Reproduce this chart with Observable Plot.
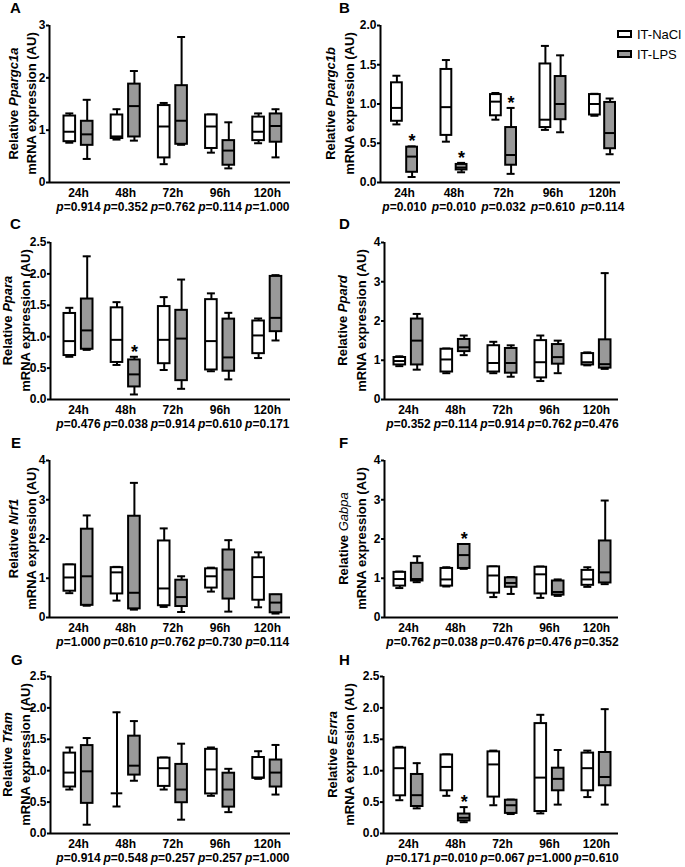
<!DOCTYPE html>
<html><head><meta charset="utf-8">
<script src="https://cdn.jsdelivr.net/npm/d3@7"></script>
<script src="https://cdn.jsdelivr.net/npm/@observablehq/plot@0.6"></script>
<style>
body{margin:0;background:#fff;}
#wrap{position:relative;width:685px;height:867px;overflow:hidden;background:#fff;}
#wrap svg{position:absolute;}
</style></head><body><div id="wrap"></div>
<script>
const times = ["24h","48h","72h","96h","120h"];
const groups = ["IT-NaCl","IT-LPS"];

// [min, q1, median, q3, max] per time point
const A_NaCl = [[0.76,0.78,0.97,1.27,1.32],[0.82,0.84,0.88,1.29,1.40],[0.35,0.47,1.07,1.47,1.52],[0.57,0.65,1.07,1.29,1.30],[0.75,0.80,0.97,1.25,1.32]];
const A_LPS  = [[0.45,0.71,0.92,1.17,1.58],[0.80,0.87,1.46,1.88,2.13],[0.72,0.73,1.18,1.85,2.78],[0.27,0.33,0.61,0.80,1.15],[0.48,0.77,1.08,1.31,1.40]];
const A_p = ["0.914","0.352","0.762","0.114","1.000"];
const A_stars = [];
const A_ticks = [0,1,2,3];

const B_NaCl = [[0.74,0.78,0.95,1.27,1.36],[0.52,0.60,0.96,1.44,1.56],[0.80,0.85,1.03,1.12,1.14],[0.67,0.70,0.80,1.51,1.74],[0.85,0.86,1.00,1.12,1.13]];
const B_LPS  = [[0.07,0.13,0.33,0.45,0.46],[0.13,0.16,0.19,0.23,0.25],[0.11,0.22,0.35,0.70,0.95],[0.64,0.80,1.00,1.35,1.62],[0.36,0.43,0.63,1.02,1.07]];
const B_p = ["0.010","0.010","0.032","0.610","0.114"];
const B_stars = [0,1,2];
const B_ticks = [0,0.5,1,1.5,2];

const C_NaCl = [[0.68,0.70,0.93,1.37,1.46],[0.55,0.59,0.95,1.46,1.55],[0.47,0.57,0.95,1.48,1.63],[0.45,0.47,0.93,1.59,1.69],[0.66,0.73,1.02,1.25,1.29]];
const C_LPS  = [[0.79,0.80,1.10,1.60,2.28],[0.08,0.20,0.40,0.63,0.68],[0.17,0.30,0.97,1.42,1.91],[0.32,0.45,0.67,1.28,1.38],[0.94,1.08,1.30,1.96,1.98]];
const C_p = ["0.476","0.038","0.914","0.610","0.171"];
const C_stars = [1];
const C_ticks = [0,0.5,1,1.5,2,2.5];

const D_NaCl = [[0.85,0.88,0.98,1.07,1.10],[0.67,0.70,1.02,1.28,1.30],[0.67,0.70,0.93,1.37,1.47],[0.47,0.55,0.95,1.50,1.63],[0.87,0.88,0.95,1.17,1.20]];
const D_LPS  = [[0.76,0.88,1.50,2.05,2.18],[1.13,1.22,1.33,1.53,1.63],[0.58,0.67,0.93,1.30,1.38],[0.67,0.90,1.08,1.40,1.50],[0.78,0.80,0.90,1.52,3.22]];
const D_p = ["0.352","0.114","0.914","0.762","0.476"];
const D_stars = [];
const D_ticks = [0,1,2,3,4];

const E_NaCl = [[0.62,0.67,1.02,1.34,1.35],[0.43,0.60,1.15,1.27,1.29],[0.27,0.30,0.74,1.95,2.27],[0.66,0.75,1.05,1.24,1.27],[0.26,0.44,1.03,1.52,1.66]];
const E_LPS  = [[0.30,0.31,1.05,2.25,2.60],[0.20,0.22,0.63,2.58,3.43],[0.14,0.28,0.52,0.95,1.05],[0.15,0.47,1.22,1.72,1.97],[0.10,0.12,0.38,0.58,0.58]];
const E_p = ["1.000","0.610","0.762","0.730","0.114"];
const E_stars = [];
const E_ticks = [0,1,2,3,4];

const F_NaCl = [[0.75,0.80,0.98,1.15,1.17],[0.79,0.80,0.97,1.25,1.28],[0.52,0.62,1.07,1.29,1.30],[0.50,0.60,1.10,1.28,1.30],[0.78,0.82,0.97,1.20,1.28]];
const F_LPS  = [[0.90,0.93,0.98,1.38,1.56],[1.24,1.25,1.59,1.86,1.87],[0.60,0.77,0.88,1.01,1.03],[0.55,0.57,0.65,0.93,0.97],[0.85,0.88,1.15,1.95,2.98]];
const F_p = ["0.762","0.038","0.476","0.476","0.352"];
const F_stars = [1];
const F_ticks = [0,1,2,3,4];

const G_NaCl = [[0.70,0.74,0.97,1.28,1.37],[0.43,0.64,0.64,0.64,1.93],[0.70,0.75,1.04,1.20,1.21],[0.60,0.63,1.02,1.34,1.37],[0.87,0.88,0.89,1.21,1.31]];
const G_LPS  = [[0.14,0.48,0.99,1.40,1.52],[0.84,0.93,1.08,1.55,1.79],[0.22,0.49,0.70,1.10,1.43],[0.34,0.42,0.70,0.96,1.03],[0.62,0.74,0.97,1.17,1.41]];
const G_p = ["0.914","0.548","0.257","0.257","1.000"];
const G_stars = [];
const G_ticks = [0,0.5,1,1.5,2,2.5];

const H_NaCl = [[0.53,0.60,1.04,1.36,1.38],[0.60,0.68,1.06,1.25,1.26],[0.45,0.58,1.10,1.30,1.32],[0.32,0.35,0.89,1.75,1.89],[0.58,0.68,1.04,1.28,1.32]];
const H_LPS  = [[0.40,0.43,0.61,0.94,1.12],[0.18,0.20,0.25,0.31,0.42],[0.31,0.32,0.45,0.53,0.54],[0.46,0.68,0.87,1.04,1.33],[0.46,0.76,0.90,1.29,1.98]];
const H_p = ["0.171","0.010","0.067","1.000","0.610"];
const H_stars = [1];
const H_ticks = [0,0.5,1,1.5,2,2.5];

const FONT = '"Liberation Sans", Arial, sans-serif';
const wrap = document.getElementById("wrap");

const panels = [
  {id:"A", gene:"Ppargc1a", nacl:A_NaCl, lps:A_LPS, p:A_p, stars:A_stars, ticks:A_ticks, fmt:"d",   top:0,   left:0,   axisX:49,  c0:78,  step:47.2, right:290, lab1:13,  lab2:31,  lx:10,  ly:13},
  {id:"B", gene:"Ppargc1b", nacl:B_NaCl, lps:B_LPS, p:B_p, stars:B_stars, ticks:B_ticks, fmt:".1f", top:0,   left:320, axisX:380, c0:404, step:49.5, right:620, lab1:330, lab2:349, lx:339, ly:13, off:7.6, half:5.4},
  {id:"C", gene:"Ppara",    nacl:C_NaCl, lps:C_LPS, p:C_p, stars:C_stars, ticks:C_ticks, fmt:".1f", top:217, left:0,   axisX:50,  c0:78,  step:47.2, right:290, lab1:7.5, lab2:25.5, lx:10,  ly:229},
  {id:"D", gene:"Ppard",    nacl:D_NaCl, lps:D_LPS, p:D_p, stars:D_stars, ticks:D_ticks, fmt:"d",   top:217, left:320, axisX:384, c0:408, step:47,   right:618, lab1:342, lab2:361, lx:339, ly:229},
  {id:"E", gene:"Nrf1",     nacl:E_NaCl, lps:E_LPS, p:E_p, stars:E_stars, ticks:E_ticks, fmt:"d",   top:435, left:0,   axisX:49,  c0:78,  step:47.2, right:290, lab1:13,  lab2:31,  lx:11,  ly:448},
  {id:"F", gene:"Gabpa",    nacl:F_NaCl, lps:F_LPS, p:F_p, stars:F_stars, ticks:F_ticks, fmt:"d",   top:435, left:320, axisX:384, c0:408, step:47,   right:618, lab1:343, lab2:361, lx:339, ly:448, geneNormal:true},
  {id:"G", gene:"Tfam",     nacl:G_NaCl, lps:G_LPS, p:G_p, stars:G_stars, ticks:G_ticks, fmt:".1f", top:651, left:0,   axisX:50,  c0:78,  step:47.2, right:290, lab1:7.5, lab2:25.5, lx:11,  ly:665},
  {id:"H", gene:"Esrra",    nacl:H_NaCl, lps:H_LPS, p:H_p, stars:H_stars, ticks:H_ticks, fmt:".1f", top:651, left:320, axisX:383, c0:408, step:47,   right:618, lab1:332, lab2:349, lx:339, ly:665}
];

function drawPanel(cfg) {
  const W = cfg.left === 0 ? 340 : 365;
  const H = cfg.top === 651 ? 216 : 217;
  const off = (cfg.off ?? 8.7) / cfg.step;
  const half = (cfg.half ?? 5.8) / cfg.step;
  const cap = 4 / cfg.step;
  const rows = [];
  times.forEach((t, i) => {
    rows.push({i, g: groups[0], s: cfg.nacl[i]});
    rows.push({i, g: groups[1], s: cfg.lps[i]});
  });
  const pos = d => d.i + (d.g === groups[0] ? -off : off);
  const xd = [(cfg.axisX - cfg.c0) / cfg.step, (cfg.right - cfg.c0) / cfg.step];
  const ymax = cfg.ticks[cfg.ticks.length - 1];
  const svg = Plot.plot({
    width: W, height: H,
    marginLeft: cfg.axisX - cfg.left,
    marginRight: W - (cfg.right - cfg.left),
    marginTop: 25,
    marginBottom: H - 182,
    x: {domain: xd},
    y: {domain: [0, ymax]},
    style: {fontFamily: FONT, fontSize: "12px", fontWeight: "bold", background: "transparent", overflow: "visible", color: "#000"},
    marks: [
      Plot.ruleX(rows, {x: pos, y1: d => d.s[0], y2: d => d.s[1], stroke: "#000", strokeWidth: 2}),
      Plot.ruleX(rows, {x: pos, y1: d => d.s[3], y2: d => d.s[4], stroke: "#000", strokeWidth: 2}),
      Plot.ruleY(rows, {y: d => d.s[4], x1: d => pos(d) - cap, x2: d => pos(d) + cap, stroke: "#000", strokeWidth: 2}),
      Plot.ruleY(rows, {y: d => d.s[0], x1: d => pos(d) - cap, x2: d => pos(d) + cap, stroke: "#000", strokeWidth: 2}),
      Plot.rect(rows, {x1: d => pos(d) - half, x2: d => pos(d) + half, y1: d => d.s[1], y2: d => d.s[3],
        fill: d => d.g === groups[0] ? "#ffffff" : "#999999", stroke: "#000", strokeWidth: 2}),
      Plot.ruleY(rows, {y: d => d.s[2], x1: d => pos(d) - half, x2: d => pos(d) + half, stroke: "#000", strokeWidth: 2}),
      Plot.ruleX([xd[0]], {stroke: "#000", strokeWidth: 2}),
      Plot.ruleY([0], {stroke: "#000", strokeWidth: 2}),
      Plot.axisY({ticks: cfg.ticks, tickFormat: d3.format(cfg.fmt), tickSize: 3, tickPadding: 1, strokeWidth: 2, label: null, fontSize: 12, fontWeight: "bold"}),
      Plot.axisX({ticks: [0,1,2,3,4], tickFormat: i => times[i], tickSize: 0, tickPadding: 6, label: null, fontSize: 12, fontWeight: "bold"}),
      Plot.text(cfg.p, {x: (d, i) => i, frameAnchor: "bottom", dy: 28.5, lineAnchor: "bottom", text: d => "p=" + d, fontSize: 12, fontWeight: "bold"}),
      Plot.text(cfg.stars, {x: i => i + off, y: i => cfg.lps[i][4], text: () => "*", lineAnchor: "bottom", dy: 1, fontSize: 18, fontWeight: "bold"})
    ]
  });
  const s = d3.select(svg);
  s.selectAll("text").filter(function() { return /^p=/.test(this.textContent); }).each(function() {
    const v = this.textContent.slice(1);
    const t = d3.select(this);
    t.text(null);
    t.append("tspan").attr("font-style", "italic").text("p");
    t.append("tspan").text(v);
  });
  const yc = (25 + 182) / 2;
  const l1 = s.append("text")
    .attr("transform", `translate(${cfg.lab1 - cfg.left},${yc}) rotate(-90)`)
    .attr("text-anchor", "middle").attr("dy", "0.35em")
    .attr("font-size", 13).attr("font-weight", "bold").attr("font-family", FONT);
  l1.append("tspan").text("Relative ");
  l1.append("tspan").attr("font-style", "italic").attr("font-weight", cfg.geneNormal ? "normal" : "bold").text(cfg.gene);
  s.append("text")
    .attr("transform", `translate(${cfg.lab2 - cfg.left},${yc}) rotate(-90)`)
    .attr("text-anchor", "middle").attr("dy", "0.35em")
    .attr("font-size", 13).attr("font-weight", "bold").attr("font-family", FONT)
    .text("mRNA expression (AU)");
  svg.style.left = cfg.left + "px";
  svg.style.top = cfg.top + "px";
  wrap.appendChild(svg);
}

panels.forEach(drawPanel);

// overlay: panel letters and legend
const ov = d3.select(wrap).append("svg")
  .attr("width", 685).attr("height", 867)
  .style("left", "0px").style("top", "0px").style("pointer-events", "none")
  .attr("font-family", FONT);
ov.selectAll("text.letter").data(panels).join("text")
  .attr("class", "letter")
  .attr("x", d => d.lx).attr("y", d => d.ly)
  .attr("font-size", 15).attr("font-weight", "bold")
  .text(d => d.id);
const leg = ov.append("g").attr("transform", "translate(617,30)");
leg.selectAll("rect").data(groups).join("rect")
  .attr("x", 1).attr("y", (d, i) => 1 + i * 20).attr("width", 13).attr("height", 6)
  .attr("fill", (d, i) => i === 0 ? "#ffffff" : "#999999").attr("stroke", "#000").attr("stroke-width", 2);
leg.selectAll("text").data(groups).join("text")
  .attr("x", 20).attr("y", (d, i) => 8.5 + i * 20)
  .attr("font-size", 13).text(d => d);
</script>
</body></html>
